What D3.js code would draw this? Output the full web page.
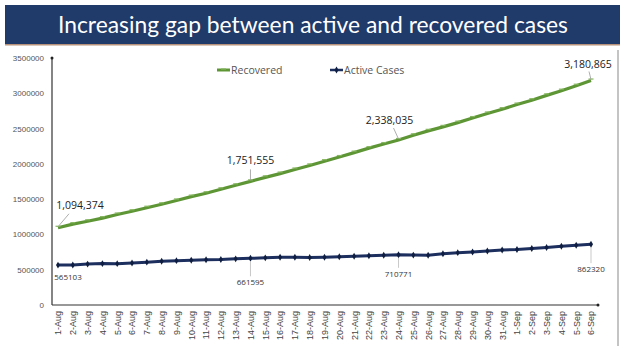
<!DOCTYPE html>
<html>
<head>
<meta charset="utf-8">
<script src="https://cdn.jsdelivr.net/npm/d3@7"></script>
<style>
  html, body { margin: 0; padding: 0; background: #fff; }
  svg { display: block; font-family: 'Open Sans', 'Noto Sans', sans-serif; }
</style>
</head>
<body>
<div id="chart"></div>
<script>
const title = 'Increasing gap between active and recovered cases'

const dates = [
  '1-Aug', '2-Aug', '3-Aug', '4-Aug', '5-Aug', '6-Aug', '7-Aug', '8-Aug', '9-Aug', '10-Aug',
  '11-Aug', '12-Aug', '13-Aug', '14-Aug', '15-Aug', '16-Aug', '17-Aug', '18-Aug', '19-Aug',
  '20-Aug', '21-Aug', '22-Aug', '23-Aug', '24-Aug', '25-Aug', '26-Aug', '27-Aug', '28-Aug',
  '29-Aug', '30-Aug', '31-Aug', '1-Sep', '2-Sep', '3-Sep', '4-Sep', '5-Sep', '6-Sep'
]

const recovered = [
  1094374, 1145629, 1186203, 1230509, 1282215, 1328336, 1378105, 1427005, 1480884, 1535743,
  1583489, 1639599, 1695982, 1751555, 1808936, 1862258, 1919842, 1977779, 2037870,
  2096664, 2158946, 2222577, 2280566, 2338035, 2404585, 2467758, 2523771, 2583948,
  2648998, 2713933, 2774801, 2839882, 2901908, 2970492, 3037151, 3107223, 3180865
]

const active = [
  565103, 567730, 579357, 586298, 586244, 595501, 607384, 619088, 628747, 634945,
  639929, 643948, 653622, 661595, 667888, 676900, 676514, 673166, 676514,
  684000, 690000, 697330, 704348, 710771, 706851, 704348, 725991, 742023,
  752424, 765302, 778294, 785996, 801282, 815538, 831124, 846395, 862320
]

const yTicks = [0, 500000, 1000000, 1500000, 2000000, 2500000, 3000000, 3500000]

// which points carry a data label
const recoveredLabels = ['1-Aug', '14-Aug', '24-Aug', '6-Sep']
const activeLabels = ['1-Aug', '14-Aug', '24-Aug', '6-Sep']

const width = 624
const height = 354
const margin = { top: 58, right: 31, bottom: 49, left: 58 }

const green = '#5e9636'
const navy = '#1c2f5e'

const svg = d3.select('#chart').append('svg').attr('width', width).attr('height', height)

// title banner
svg.append('rect').attr('x', 5).attr('y', 5).attr('width', 615).attr('height', 40).attr('fill', '#203a6a')
svg.append('rect').attr('x', 5).attr('y', 44).attr('width', 615).attr('height', 1.5).attr('fill', '#b8927a')
svg.append('text')
  .attr('x', 313).attr('y', 33)
  .attr('text-anchor', 'middle')
  .attr('fill', '#fff')
  .attr('textLength', 510)
  .attr('lengthAdjust', 'spacingAndGlyphs')
  .style('font-family', 'Lato, sans-serif')
  .style('font-size', '24px')
  .text(title)

// slide frame line on the right
svg.append('rect').attr('x', 617).attr('y', 50).attr('width', 2).attr('height', 296).attr('fill', '#c4c4c4')

const x = d3.scalePoint().domain(dates).range([margin.left, width - margin.right - 2])
const y = d3.scaleLinear().domain([0, 3500000]).range([height - margin.bottom, margin.top])

// axes
const yAxis = svg.append('g')
  .attr('transform', `translate(52,0)`)
  .call(d3.axisLeft(y).tickValues(yTicks).tickSize(0).tickPadding(8).tickFormat(d3.format('d')))
yAxis.select('.domain').remove()
yAxis.append('line').attr('x1', 0).attr('x2', 0).attr('y1', y(0)).attr('y2', y(3500000)).attr('stroke', '#333').attr('stroke-width', 1.2)
yAxis.append('circle').attr('cx', 0).attr('cy', y(3500000)).attr('r', 1.5).attr('fill', '#222')
yAxis.selectAll('.tick text').attr('fill', '#555').style('font-size', '8px')

const xAxis = svg.append('g')
  .attr('transform', `translate(0,${y(0)})`)
  .call(d3.axisBottom(x).tickSize(0).tickPadding(0))
xAxis.select('.domain').remove()
xAxis.append('line').attr('x1', 52).attr('x2', 598).attr('y1', 0).attr('y2', 0).attr('stroke', '#333').attr('stroke-width', 1.2)
xAxis.append('circle').attr('cx', 598).attr('cy', 0).attr('r', 1.5).attr('fill', '#222')
xAxis.selectAll('.tick text')
  .attr('transform', 'rotate(-90)')
  .attr('text-anchor', 'end')
  .attr('dx', '-6')
  .attr('dy', '0.32em')
  .attr('x', 0).attr('y', 0)
  .attr('fill', '#444')
  .style('font-size', '9px')

// lines
const line = values => d3.line().x((d, i) => x(dates[i])).y(d => y(d))(values)

svg.append('path').attr('d', line(recovered)).attr('fill', 'none').attr('stroke', green).attr('stroke-width', 3.2)
svg.append('path').attr('d', line(active)).attr('fill', 'none').attr('stroke', navy).attr('stroke-width', 3)

svg.append('g').selectAll('line').data(recovered).join('line')
  .attr('x1', (d, i) => x(dates[i]) - 2.5).attr('x2', (d, i) => x(dates[i]) + 2.5)
  .attr('y1', d => y(d) - 1.5).attr('y2', d => y(d) - 1.5)
  .attr('stroke', '#86b65f').attr('stroke-width', 1.2)

const plus = d3.symbol().type(d3.symbolDiamond).size(14)
svg.append('g').selectAll('path').data(active).join('path')
  .attr('transform', (d, i) => `translate(${x(dates[i])},${y(d)})`)
  .attr('d', plus)
  .attr('fill', '#0f1e40')

// data labels
const fmtComma = d3.format(',')
const recLabelPos = {
  '1-Aug': { dx: 22, dy: -19, lx: 11, ly: -14 },
  '14-Aug': { dx: 0, dy: -17, lx: 0, ly: -12 },
  '24-Aug': { dx: -9, dy: -16, lx: -5, ly: -12 },
  '6-Sep': { dx: -3, dy: -13, lx: -2, ly: -9 }
}
recoveredLabels.forEach(dt => {
  const i = dates.indexOf(dt)
  const px = x(dt)
  const py = y(recovered[i])
  const p = recLabelPos[dt]
  svg.append('line').attr('x1', px).attr('y1', py - 1).attr('x2', px + p.lx).attr('y2', py + p.ly)
    .attr('stroke', '#999').attr('stroke-width', 0.8)
  svg.append('text')
    .attr('x', px + p.dx).attr('y', py + p.dy)
    .attr('text-anchor', 'middle')
    .attr('fill', '#222')
    .style('font-size', '10.5px')
    .text(fmtComma(recovered[i]))
})

const actLabelPos = {
  '1-Aug': { dx: 10, dy: 15, leader: false },
  '14-Aug': { dx: 0, dy: 27, leader: true },
  '24-Aug': { dx: 0, dy: 22, leader: true },
  '6-Sep': { dx: 0, dy: 28, leader: true }
}
activeLabels.forEach(dt => {
  const i = dates.indexOf(dt)
  const px = x(dt)
  const py = y(active[i])
  const p = actLabelPos[dt]
  if (p.leader) {
    svg.append('line').attr('x1', px).attr('y1', py + 3).attr('x2', px).attr('y2', py + p.dy - 9)
      .attr('stroke', '#bbb').attr('stroke-width', 0.8)
  }
  svg.append('text')
    .attr('x', px + p.dx).attr('y', py + p.dy)
    .attr('text-anchor', 'middle')
    .attr('fill', '#333')
    .style('font-size', '8px')
    .text(active[i])
})

// legend
const legend = svg.append('g').attr('transform', 'translate(217,70)')
legend.append('line').attr('x1', 0).attr('x2', 13).attr('y1', 0).attr('y2', 0).attr('stroke', green).attr('stroke-width', 3)
legend.append('line').attr('x1', 4).attr('x2', 9).attr('y1', -1).attr('y2', -1).attr('stroke', '#86b65f').attr('stroke-width', 1.2)
legend.append('text').attr('x', 14).attr('y', 4).attr('fill', '#555').style('font-size', '10.5px').text('Recovered')
legend.append('line').attr('x1', 113).attr('x2', 126).attr('y1', 0).attr('y2', 0).attr('stroke', navy).attr('stroke-width', 2.5)
legend.append('path').attr('transform', 'translate(119.5,0)').attr('d', plus).attr('fill', '#0f1e40')
legend.append('text').attr('x', 127).attr('y', 4).attr('fill', '#555').style('font-size', '10.5px').text('Active Cases')
</script>
</body>
</html>
